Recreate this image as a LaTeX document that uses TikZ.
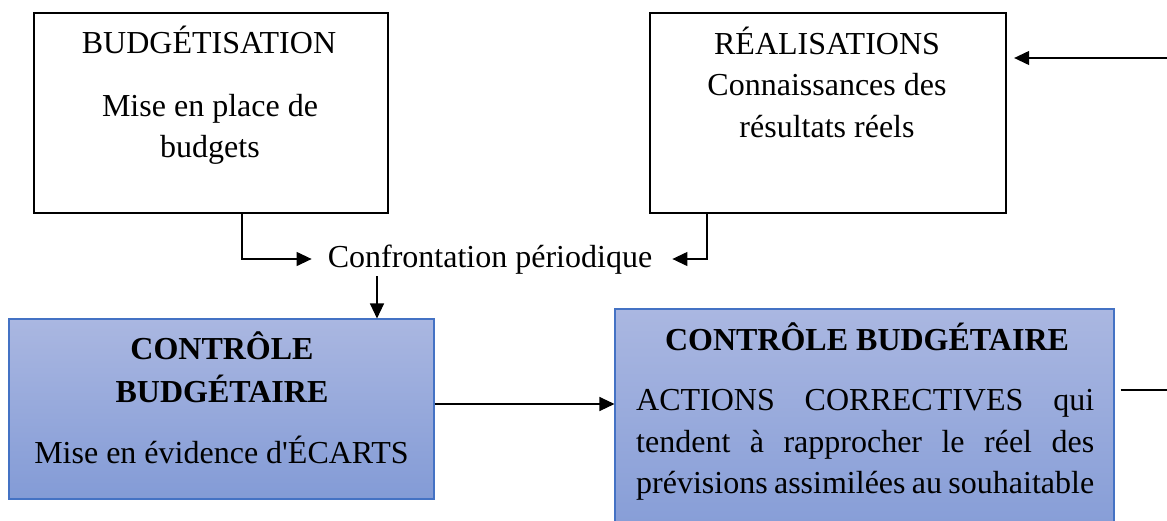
\documentclass[tikz,border=0pt]{standalone}
\usepackage{fontspec}
\newfontfamily\tnr{Liberation Serif}
\usetikzlibrary{arrows.meta}
\definecolor{boxtop}{RGB}{170,183,225}
\definecolor{boxbot}{RGB}{131,155,214}
\definecolor{boxline}{RGB}{68,114,196}
\tikzset{
  txt/.style={font=\tnr\fontsize{32}{38}\selectfont, inner sep=0pt, anchor=base},
  btxt/.style={font=\tnr\bfseries\fontsize{32}{38}\selectfont, inner sep=0pt, anchor=base},
  whitebox/.style={draw=black, line width=2.3pt, fill=white, inner sep=0pt},
  bluebox/.style={draw=boxline, line width=1.1pt, top color=boxtop, bottom color=boxbot, inner sep=0pt},
  conn/.style={line width=1.2pt, draw=black},
  arr/.style={conn, -{Triangle[length=15pt,width=14pt]}},
}
\begin{document}
\begin{tikzpicture}[x=1pt,y=-1pt]
\useasboundingbox (0,0) rectangle (1167,520);
\clip (0,0) rectangle (1167,520);
\fill[white] (0,0) rectangle (1167,520);

% boxes
\node[whitebox, minimum width=354pt, minimum height=200pt] (b1) at (211,113) {};
\node[whitebox, minimum width=356pt, minimum height=200pt] (b2) at (828,113) {};
\node[bluebox, minimum width=425pt, minimum height=180pt] (b3) at (221.5,409) {};
\node[bluebox, minimum width=499pt, minimum height=240pt] (b4) at (864.5,429) {};

% texts box 1
\node[txt] (t11) at (209,53) {BUDGÉTISATION};
\node[txt] (t12) at (210,116) {Mise en place de};
\node[txt] (t13) at (210,157) {budgets};
% texts box 2
\node[txt] (t21) at (827,54) {RÉALISATIONS};
\node[txt] (t22) at (827,95) {Connaissances des};
\node[txt] (t23) at (827,137) {résultats réels};
% texts box 3
\node[btxt] (t31) at (222,359) {CONTRÔLE};
\node[btxt] (t32) at (222,402) {BUDGÉTAIRE};
\node[txt] (t33) at (221.5,463) {Mise en évidence d\char"0027ÉCARTS};
% texts box 4
\node[btxt] (t41) at (867,350) {CONTRÔLE BUDGÉTAIRE};
\node[txt, anchor=base west] (t42) at (636,410) {\makebox[458pt][s]{ACTIONS CORRECTIVES qui}};
\node[txt, anchor=base west] (t43) at (636,452) {\makebox[458pt][s]{tendent à rapprocher le réel des}};
\node[txt, anchor=base west] (t44) at (636,493) {\makebox[458pt][s]{prévisions assimilées au souhaitable}};

% confrontation
\node[txt] (conf) at (490,267) {Confrontation périodique};

% helper coordinates
\coordinate (jl) at (242,259);
\coordinate (jr) at (707,259);
\coordinate (jd) at (377,276);
\coordinate (h34) at (0,404);
\coordinate (in2) at (1167,58);
\coordinate (out4) at (1167,390);

% connectors
\draw[arr] (b1.south -| jl) |- ([xshift=-16pt]conf.west |- jl);
\draw[arr] (b2.south -| jr) |- ([xshift=20pt]conf.east |- jr);
\draw[arr] (jd) -- (b3.north -| jd);
\draw[arr] (b3.east |- h34) -- (b4.west |- h34);
\draw[arr] (in2) -- ([xshift=7pt]b2.east |- in2);
\draw[conn] ([xshift=6pt]b4.east |- out4) -- (out4);
\end{tikzpicture}
\end{document}
